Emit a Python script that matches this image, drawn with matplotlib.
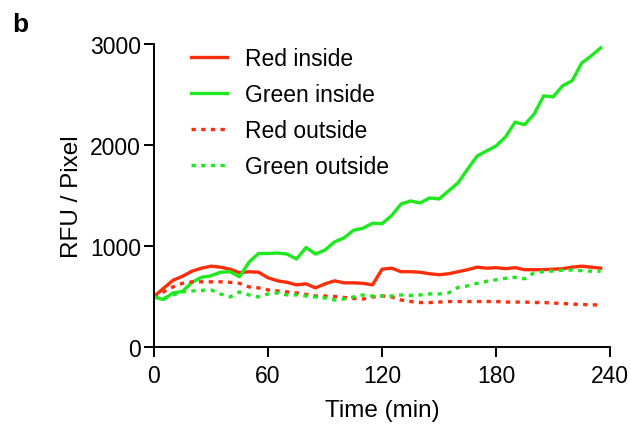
import numpy as np
import matplotlib
matplotlib.use('Agg')
import matplotlib.pyplot as plt

plt.rcParams['font.family'] = ['Liberation Sans', 'DejaVu Sans']

time_min = np.arange(0, 240, 5)

red_inside = [500, 580, 660, 700, 750, 780, 800, 790, 770, 735, 745, 740,
              685, 655, 640, 615, 625, 585, 625, 655, 635, 635, 630, 615,
              770, 780, 745, 745, 740, 725, 715, 725, 745, 765, 790, 780,
              785, 775, 785, 765, 765, 765, 770, 775, 790, 800, 790, 780]

green_inside = [495, 470, 535, 550, 640, 690, 705, 740, 745, 695, 840, 925,
                925, 930, 920, 870, 985, 920, 960, 1040, 1080, 1155, 1175, 1225,
                1220, 1300, 1415, 1445, 1425, 1475, 1465, 1545, 1625, 1760, 1890, 1940,
                1990, 2080, 2225, 2200, 2305, 2485, 2475, 2585, 2635, 2810, 2880, 2960]

red_outside = [495, 545, 595, 630, 645, 645, 645, 645, 640, 630, 595, 585,
               565, 555, 545, 535, 520, 505, 505, 500, 490, 480, 475, 495,
               505, 495, 465, 450, 440, 440, 445, 450, 450, 450, 450, 450,
               450, 445, 445, 445, 440, 440, 435, 430, 425, 420, 418, 415]

green_outside = [495, 480, 515, 545, 555, 560, 565, 525, 495, 545, 515, 495,
                 525, 535, 515, 515, 505, 495, 485, 465, 475, 495, 515, 505,
                 505, 505, 515, 510, 515, 525, 525, 535, 590, 605, 630, 650,
                 665, 680, 690, 675, 735, 745, 752, 760, 762, 755, 750, 750]

red = '#ff2d0a'
green = '#1ee81e'

fig = plt.figure(figsize=(6.31, 4.27), dpi=100)
ax = fig.add_axes([0.244, 0.185, 0.723, 0.710])

lw = 2.4
dots = (0, (1.3, 1.6))
ax.plot(time_min, red_inside, color=red, lw=lw, label='Red inside')
ax.plot(time_min, green_inside, color=green, lw=lw, label='Green inside')
ax.plot(time_min, red_outside, color=red, lw=lw, linestyle=dots, label='Red outside')
ax.plot(time_min, green_outside, color=green, lw=lw, linestyle=dots, label='Green outside')

ax.set_xlim(0, 240)
ax.set_ylim(0, 3000)
ax.set_xticks([0, 60, 120, 180, 240])
ax.set_yticks([0, 1000, 2000, 3000])
ax.tick_params(labelsize=16.5, length=7, width=1.4, direction='out')
ax.tick_params(axis='x', pad=5)
ax.tick_params(axis='y', pad=2.5)
for s in ['top', 'right']:
    ax.spines[s].set_visible(False)
for s in ['left', 'bottom']:
    ax.spines[s].set_linewidth(1.4)

ax.set_xlabel('Time (min)', fontsize=17.5, labelpad=9)
ax.set_ylabel('RFU / Pixel', fontsize=17.5, labelpad=5)

ax.legend(loc='upper left', bbox_to_anchor=(0.037, 1.056), frameon=False,
          fontsize=16.5, handlelength=1.53, handletextpad=0.8, labelspacing=0.56)

fig.text(0.019, 0.925, 'b', fontsize=19, fontweight='bold')

fig.savefig('out.png', dpi=100)
